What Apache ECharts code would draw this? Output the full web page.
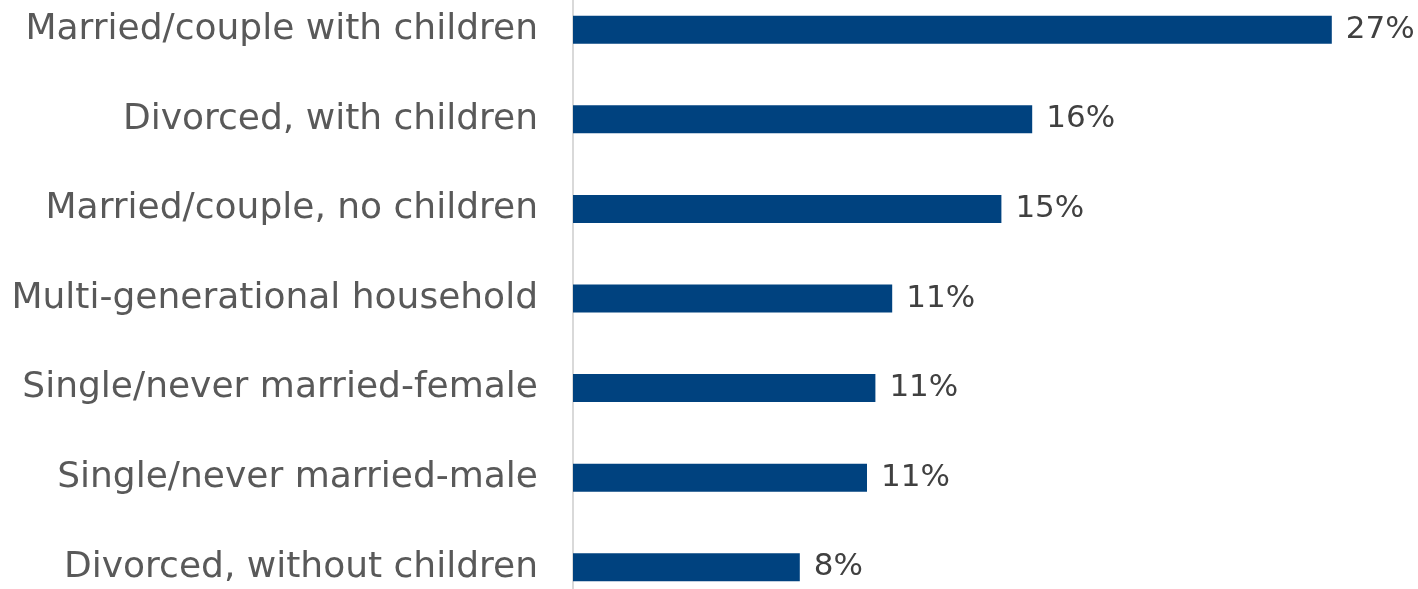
<!DOCTYPE html>
<html>
<head>
<meta charset="utf-8">
<script src="https://cdn.jsdelivr.net/npm/echarts@6/dist/echarts.min.js"></script>
<style>
  html, body { margin: 0; padding: 0; background: #fff; overflow: hidden; }
  #bar { position: absolute; left: 0; top: -15px; width: 1418px; height: 627px; }
</style>
</head>
<body>
<div id="bar"></div>
<script>
const categories = [
  'Married/couple with children',
  'Divorced, with children',
  'Married/couple, no children',
  'Multi-generational household',
  'Single/never married-female',
  'Single/never married-male',
  'Divorced, without children'
];
const shares = [27.1, 16.4, 15.3, 11.4, 10.8, 10.5, 8.1];

const option = {
  animation: false,
  grid: {
    left: 573,
    right: 5,
    top: 0,
    bottom: 0,
    containLabel: false
  },
  xAxis: {
    type: 'value',
    min: 0,
    max: 30,
    show: false
  },
  yAxis: {
    type: 'category',
    inverse: true,
    data: categories,
    axisLine: { show: true, lineStyle: { color: '#d9d9d9', width: 2 } },
    axisTick: { show: false },
    axisLabel: {
      margin: 35,
      color: '#595959',
      fontSize: 36,
      fontFamily: 'DejaVu Sans'
    }
  },
  series: [
    {
      name: 'share',
      type: 'bar',
      data: shares,
      barWidth: 28,
      itemStyle: { color: '#00427f' },
      label: {
        show: true,
        position: 'right',
        distance: 14,
        color: '#404040',
        fontSize: 31,
        fontFamily: 'DejaVu Sans',
        formatter(p) {
          return Math.round(p.value) + '%'
        }
      }
    }
  ]
};

let chart = echarts.init(document.getElementById('bar'));
chart.setOption(option);
</script>
</body>
</html>
